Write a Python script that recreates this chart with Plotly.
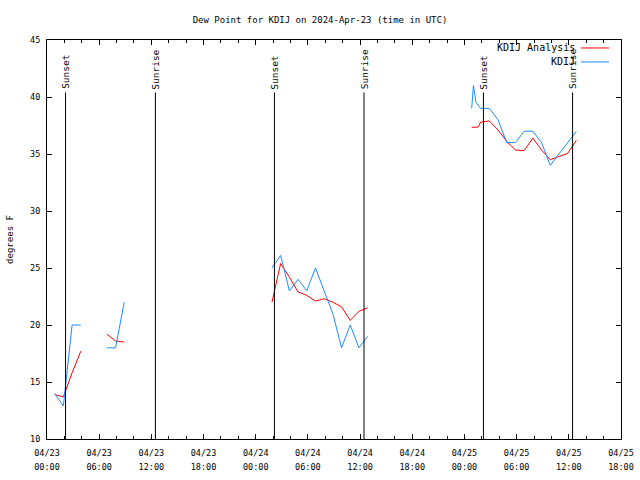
import plotly.graph_objects as go

# ---- data ----
obs_times = ["2024-04-23 00:53", "2024-04-23 01:53", "2024-04-23 02:53", "2024-04-23 03:53", "2024-04-23 04:30",
             "2024-04-23 06:53", "2024-04-23 07:53", "2024-04-23 08:53", "2024-04-23 12:00",
             "2024-04-24 01:52", "2024-04-24 02:52", "2024-04-24 03:52", "2024-04-24 04:52", "2024-04-24 05:52",
             "2024-04-24 06:52", "2024-04-24 07:52", "2024-04-24 08:52", "2024-04-24 09:52", "2024-04-24 10:52",
             "2024-04-24 11:52", "2024-04-24 12:52", "2024-04-24 18:00",
             "2024-04-25 00:50", "2024-04-25 01:02", "2024-04-25 01:20", "2024-04-25 01:52", "2024-04-25 02:52",
             "2024-04-25 03:52", "2024-04-25 04:52", "2024-04-25 05:52", "2024-04-25 06:52", "2024-04-25 07:52",
             "2024-04-25 08:52", "2024-04-25 09:52", "2024-04-25 10:52", "2024-04-25 11:52", "2024-04-25 12:52"]
obs_vals = [14.0, 12.9, 20.0, 20.0, None,
            18.0, 18.0, 22.0, None,
            25.0, 26.1, 23.0, 24.0, 23.0,
            25.0, 23.0, 21.0, 18.0, 20.0,
            18.0, 19.0, None,
            39.0, 41.0, 39.5, 39.0, 39.0,
            38.0, 36.0, 36.0, 37.0, 37.0,
            36.0, 34.0, 35.0, 36.0, 37.0]

ana_times = ["2024-04-23 00:53", "2024-04-23 01:53", "2024-04-23 02:53", "2024-04-23 03:53", "2024-04-23 04:30",
             "2024-04-23 06:53", "2024-04-23 07:53", "2024-04-23 08:53", "2024-04-23 12:00",
             "2024-04-24 01:52", "2024-04-24 02:52", "2024-04-24 03:52", "2024-04-24 04:52", "2024-04-24 05:52",
             "2024-04-24 06:52", "2024-04-24 07:52", "2024-04-24 08:52", "2024-04-24 09:52", "2024-04-24 10:52",
             "2024-04-24 11:52", "2024-04-24 12:52", "2024-04-24 18:00",
             "2024-04-25 00:50", "2024-04-25 01:34", "2024-04-25 01:52", "2024-04-25 02:52",
             "2024-04-25 03:52", "2024-04-25 04:52", "2024-04-25 05:52", "2024-04-25 06:52", "2024-04-25 07:52",
             "2024-04-25 08:52", "2024-04-25 09:52", "2024-04-25 10:52", "2024-04-25 11:52", "2024-04-25 12:52"]
ana_vals = [13.9, 13.7, 15.8, 17.7, None,
            19.2, 18.6, 18.5, None,
            22.0, 25.4, 24.2, 22.9, 22.6,
            22.1, 22.3, 22.0, 21.6, 20.4,
            21.2, 21.5, None,
            37.35, 37.35, 37.8, 37.9,
            37.1, 36.1, 35.35, 35.3, 36.4,
            35.35, 34.5, 34.8, 35.06, 36.2]

event_times = ["2024-04-23 02:08", "2024-04-23 12:28", "2024-04-24 02:09", "2024-04-24 12:27",
               "2024-04-25 02:11", "2024-04-25 12:26"]
event_labels = ["Sunset", "Sunrise", "Sunset", "Sunrise", "Sunset", "Sunrise"]

series_names = ["KDIJ Analysis", "KDIJ"]
series_colors = ["#ff0000", "#1a8cff"]

title_text = "Dew Point for KDIJ on 2024-Apr-23 (time in UTC)"
y_label = "degrees F"
x_start, x_end = "2024-04-23 00:00", "2024-04-25 18:00"
y_ticks = [10, 15, 20, 25, 30, 35, 40, 45]

FONT = "DejaVu Sans Mono"

fig = go.Figure()
fig.add_trace(go.Scatter(x=ana_times, y=ana_vals, mode="lines", name=series_names[0],
                         line=dict(color=series_colors[0], width=1), connectgaps=False))
fig.add_trace(go.Scatter(x=obs_times, y=obs_vals, mode="lines", name=series_names[1],
                         line=dict(color=series_colors[1], width=1), connectgaps=False))
# invisible helper trace for the second (time-of-day) tick-label row
fig.add_trace(go.Scatter(x=[x_start, x_end], y=[None, None], xaxis="x2", mode="lines",
                         showlegend=False, hoverinfo="skip"))

line_top = 40.4
for t, lab in zip(event_times, event_labels):
    fig.add_shape(type="line", xref="x", yref="y", x0=t, x1=t, y0=10, y1=line_top,
                  line=dict(color="black", width=1))
    fig.add_annotation(x=t, y=line_top + 0.1, xref="x", yref="y", text=lab, textangle=-90,
                       showarrow=False, xanchor="center", yanchor="bottom",
                       font=dict(family=FONT, size=9.5, color="black"))

# legend (text left, sample line right)
leg_y = [0.98, 0.945]
for name, col, ly in zip(series_names, series_colors, leg_y):
    fig.add_annotation(x=0.9235, y=ly, xref="paper", yref="paper", text=name, showarrow=False,
                       xanchor="right", yanchor="middle", font=dict(family=FONT, size=10, color="black"))
    fig.add_shape(type="line", xref="paper", yref="paper", x0=0.930, x1=0.979, y0=ly, y1=ly,
                  line=dict(color=col, width=1))

fig.update_layout(
    width=640, height=480,
    margin=dict(l=47, r=19, t=40, b=41, autoexpand=False),
    paper_bgcolor="white", plot_bgcolor="white",
    showlegend=False,
    font=dict(family=FONT, size=9, color="black"),
    title=dict(text=title_text, x=0.5, xref="container", xanchor="center",
               y=1 - 20 / 480, yref="container", yanchor="middle",
               font=dict(family=FONT, size=9, color="black")),
    xaxis=dict(type="date", range=[x_start, x_end], dtick=6 * 3600 * 1000, tick0="2024-04-23 00:00",
               tickformat="%m/%d", ticks="inside", ticklen=5, tickcolor="black",
               minor=dict(dtick=2 * 3600 * 1000, ticks="inside", ticklen=3, tickcolor="black"),
               showline=True, linecolor="black", linewidth=1, mirror="ticks", showgrid=False,
               zeroline=False, automargin=False, ticklabelstandoff=6,
               tickfont=dict(family=FONT, size=8.5)),
    xaxis2=dict(type="date", overlaying="x", matches="x", side="bottom", anchor="y",
                range=[x_start, x_end], dtick=6 * 3600 * 1000, tick0="2024-04-23 00:00",
                tickformat="%H:%M", ticks="", showline=False, showgrid=False, zeroline=False,
                automargin=False, ticklabelstandoff=21, tickfont=dict(family=FONT, size=8.5)),
    yaxis=dict(range=[10, 45], tickvals=y_ticks, ticks="inside", ticklen=5, tickcolor="black",
               showline=True, linecolor="black", linewidth=1, mirror="ticks", showgrid=False,
               zeroline=False, automargin=False, ticklabelstandoff=4,
               title=dict(text=y_label, standoff=14, font=dict(family=FONT, size=9)),
               tickfont=dict(family=FONT, size=8.5)),
)

fig.write_html("out.html", config={"displayModeBar": False},
               post_script="document.body.style.margin='0';document.body.style.padding='0';")
